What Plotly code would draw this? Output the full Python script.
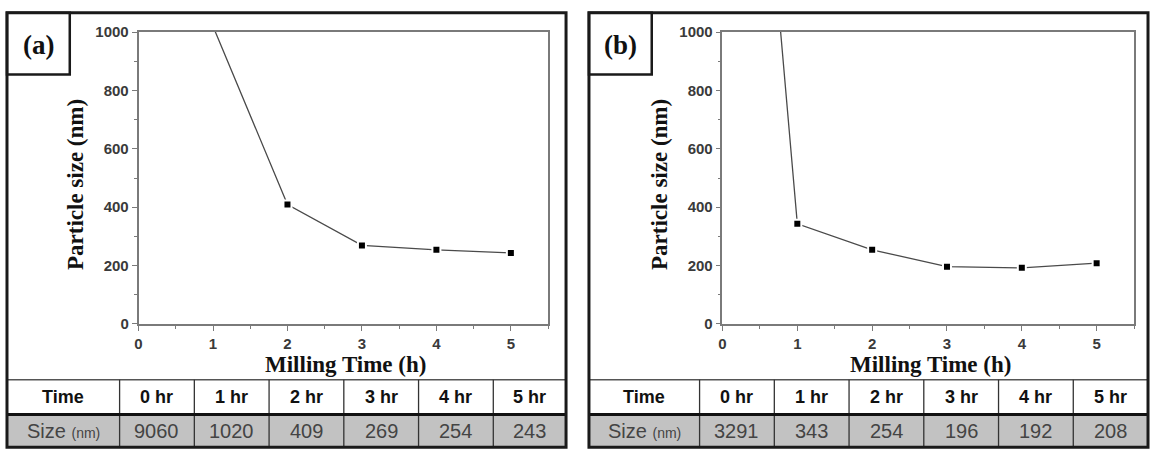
import plotly.graph_objects as go

# ---------------- data ----------------
milling_time = [0, 1, 2, 3, 4, 5]
size_a = [9060, 1020, 409, 269, 254, 243]
size_b = [3291, 343, 254, 196, 192, 208]
time_labels = ["0 hr", "1 hr", "2 hr", "3 hr", "4 hr", "5 hr"]
panel_labels = ["(a)", "(b)"]

W, H = 1152, 459


def px(x):
    return x / W


def py(y):
    return 1 - y / H


fig = go.Figure()

line_col = "#4a4a4a"
axis_col = "#7a7a7a"

series = [size_a, size_b]
for i, vals in enumerate(series):
    fig.add_trace(go.Scatter(
        x=milling_time, y=vals, mode="lines+markers",
        line=dict(color=line_col, width=1.3),
        marker=dict(symbol="square", size=8, color="black",
                    line=dict(color="white", width=2)),
        xaxis="x" if i == 0 else "x2", yaxis="y" if i == 0 else "y2",
        showlegend=False, cliponaxis=True,
    ))

# panel geometry (pixels)
panels = [
    dict(left=3, right=564, plot_l=135, plot_r=546, col_edges=[3, 116, 191, 266, 341, 416, 491, 564]),
    dict(left=587, right=1148, plot_l=721, plot_r=1134, col_edges=[587, 698, 773, 848, 923, 998, 1073, 1148]),
]
top, bottom = 4, 455
plot_t, plot_b = 24, 327

axis_common = dict(
    showgrid=False, zeroline=False, showline=True, linecolor=axis_col, linewidth=1.6,
    mirror=True, ticks="outside", ticklen=5, tickwidth=1.3, tickcolor=axis_col,
    tickfont=dict(family="Liberation Sans", size=15, color="#3a3a3a", weight="bold"),
)

layout = dict(
    width=W, height=H, margin=dict(l=0, r=0, t=0, b=0),
    paper_bgcolor="white", plot_bgcolor="white", showlegend=False,
)
for i, p in enumerate(panels):
    sx = "" if i == 0 else "2"
    layout["xaxis" + sx] = dict(
        axis_common, domain=[px(p["plot_l"]), px(p["plot_r"])], range=[0, 5.5],
        tick0=0, dtick=1, anchor="y" + sx,
        minor=dict(dtick=0.5, ticks="outside", ticklen=3, tickcolor=axis_col, tickwidth=1.2),
    )
    layout["yaxis" + sx] = dict(
        axis_common, domain=[py(plot_b), py(plot_t)], range=[0, 1000],
        tick0=0, dtick=200, anchor="x" + sx,
        minor=dict(dtick=100, ticks="outside", ticklen=3, tickcolor=axis_col, tickwidth=1.2),
    )
fig.update_layout(**layout)

shapes = []
annotations = []
row_top, row_mid = 385, 421
header_font = dict(family="Liberation Sans", size=18, color="#111111", weight="bold")
data_font = dict(family="Liberation Sans", size=20, color="#444444")

for i, p in enumerate(panels):
    vals = series[i]
    L, R = p["left"], p["right"]
    # data row background
    shapes.append(dict(type="rect", xref="paper", yref="paper",
                       x0=px(L), x1=px(R), y0=py(bottom), y1=py(row_mid),
                       fillcolor="#c2c2c2", line=dict(width=0), layer="below"))
    # header top line
    shapes.append(dict(type="line", xref="paper", yref="paper",
                       x0=px(L), x1=px(R), y0=py(row_top), y1=py(row_top),
                       line=dict(color="#555555", width=1.5)))
    # column separators
    for ce in p["col_edges"][1:-1]:
        shapes.append(dict(type="line", xref="paper", yref="paper",
                           x0=px(ce), x1=px(ce), y0=py(row_top), y1=py(bottom),
                           line=dict(color="#333333", width=1.3)))
    # thick separator
    shapes.append(dict(type="line", xref="paper", yref="paper",
                       x0=px(L), x1=px(R), y0=py(row_mid), y1=py(row_mid),
                       line=dict(color="#111111", width=3)))
    # outer panel border
    shapes.append(dict(type="rect", xref="paper", yref="paper",
                       x0=px(L), x1=px(R), y0=py(bottom), y1=py(top),
                       line=dict(color="#1a1a1a", width=3)))
    # label box
    shapes.append(dict(type="rect", xref="paper", yref="paper",
                       x0=px(L), x1=px(L + 63), y0=py(68), y1=py(top),
                       line=dict(color="#1a1a1a", width=2.5)))
    annotations.append(dict(xref="paper", yref="paper", x=px(L + 32), y=py(37),
                            text=panel_labels[i], showarrow=False,
                            font=dict(family="Liberation Serif", size=27, color="#111111", weight="bold"),
                            xanchor="center", yanchor="middle"))
    # axis titles
    annotations.append(dict(xref="paper", yref="paper", x=px((p["plot_l"] + p["plot_r"]) / 2 + 2), y=py(369),
                            text="Milling Time (h)", showarrow=False,
                            font=dict(family="Liberation Serif", size=23, color="#111111", weight="bold"),
                            xanchor="center", yanchor="middle"))
    annotations.append(dict(xref="paper", yref="paper", x=px(p["plot_l"] - 63), y=py(182),
                            text="Particle size (nm)", showarrow=False, textangle=-90,
                            font=dict(family="Liberation Serif", size=23, color="#111111", weight="bold"),
                            xanchor="center", yanchor="middle"))
    # table texts
    edges = p["col_edges"]
    cells_head = ["Time"] + time_labels
    cells_data = ["Size <span style='font-size:14px'>(nm)</span>"] + [str(v) for v in vals]
    for c in range(7):
        cx = (edges[c] + edges[c + 1]) / 2
        annotations.append(dict(xref="paper", yref="paper", x=px(cx), y=py(403),
                                text=cells_head[c], showarrow=False, font=header_font,
                                xanchor="center", yanchor="middle"))
        annotations.append(dict(xref="paper", yref="paper", x=px(cx), y=py(438.5),
                                text=cells_data[c], showarrow=False, font=data_font,
                                xanchor="center", yanchor="middle"))

fig.update_layout(shapes=shapes, annotations=annotations)
fig.write_html("out.html")
